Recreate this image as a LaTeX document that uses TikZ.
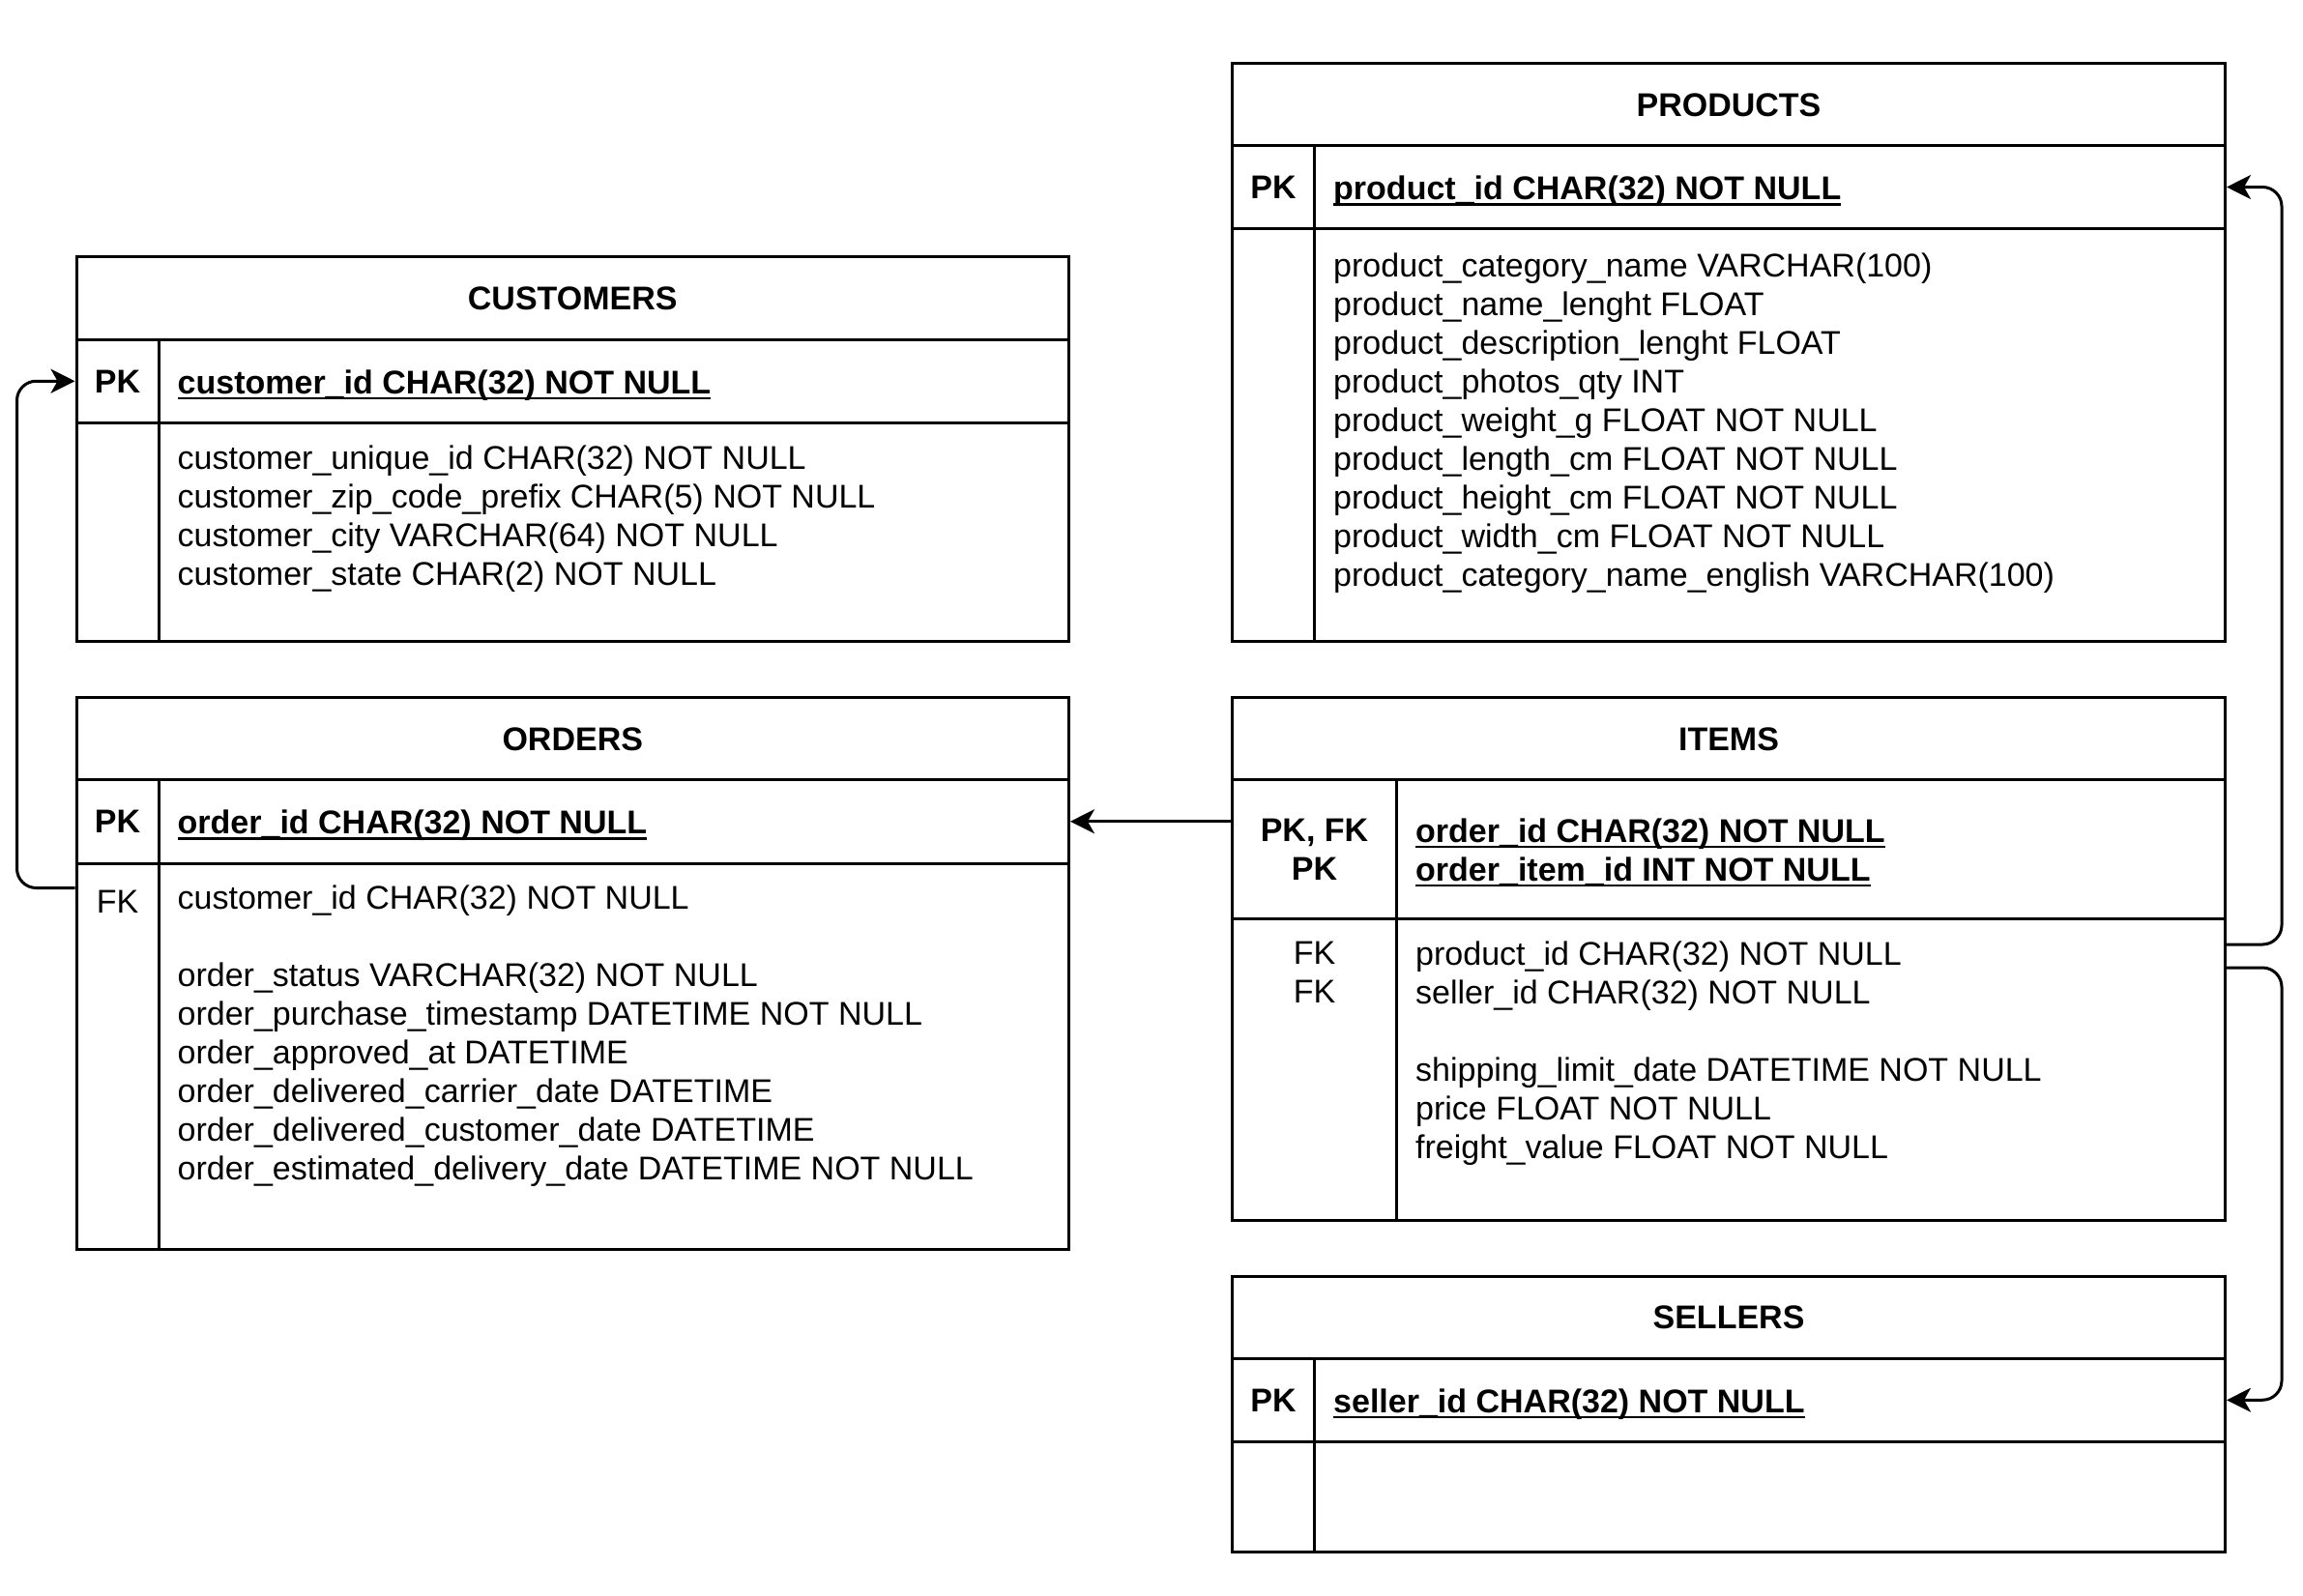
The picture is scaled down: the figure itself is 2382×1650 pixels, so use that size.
\documentclass[tikz,border=0pt]{standalone}
\usepackage{fontspec}
\setmainfont{Liberation Sans}
\usetikzlibrary{arrows.meta}

% underline for key fields
\newcommand{\pkline}[1]{\setbox0\hbox{#1}\rlap{\rule[-6pt]{\wd0}{2.5pt}}\box0}

\begin{document}
\begin{tikzpicture}[x=1pt, y=-1pt,
        every node/.style = {font=\fontsize{34}{40}\selectfont},
        cell/.style = {rectangle, draw, line width=3pt, anchor=north west, inner sep=0pt},  % Style for table cells
        head cell/.style = {cell, font=\fontsize{34}{40}\selectfont\bfseries, text height=24pt, text depth=0pt},
        key cell/.style = {head cell},
        pk text/.style = {anchor=west, inner sep=0pt, text height=24pt, text depth=0pt, font=\fontsize{34}{40}\selectfont\bfseries},
        attr text/.style = {anchor=north west, inner sep=0pt, align=left, execute at begin node=\strut},
        key text/.style = {anchor=north, inner sep=0pt, align=center, execute at begin node=\strut},
        fk link/.style = {line width=3pt, rounded corners=20pt, -{Stealth[length=25pt, width=25pt, inset=7pt]}},
        ]
        \useasboundingbox (0,0) rectangle (2382,1650);

        % Customers table
        \node[head cell, minimum width=1026.5, minimum height=85.5] (custHead) at (77.5,264) {CUSTOMERS};
        \node[key cell, minimum width=85, minimum height=86.5] (custPKkey) at (77.5,349.5) {PK};
        \node[cell, minimum width=941.5, minimum height=86.5] (custPKfield) at (162.5,349.5) {};
        \node[cell, minimum width=85, minimum height=226] (custBodyKey) at (77.5,436) {};
        \node[cell, minimum width=941.5, minimum height=226] (custBodyField) at (162.5,436) {};
        \node[pk text] (custPK) at ([xshift=21, yshift=-1]custPKfield.west) {\pkline{customer\_id CHAR(32) NOT NULL}};
        \node[attr text] (custAttr) at ([xshift=21, yshift=-24.5]custBodyField.north west) {customer\_unique\_id CHAR(32) NOT NULL\\
            customer\_zip\_code\_prefix CHAR(5) NOT NULL\\
            customer\_city VARCHAR(64) NOT NULL\\
            customer\_state CHAR(2) NOT NULL};

        % Orders table
        \node[head cell, minimum width=1026.5, minimum height=85] (ordHead) at (77.5,720) {ORDERS};
        \node[key cell, minimum width=85, minimum height=86.5] (ordPKkey) at (77.5,805) {PK};
        \node[cell, minimum width=941.5, minimum height=86.5] (ordPKfield) at (162.5,805) {};
        \node[cell, minimum width=85, minimum height=399.5] (ordBodyKey) at (77.5,891.5) {};
        \node[cell, minimum width=941.5, minimum height=399.5] (ordBodyField) at (162.5,891.5) {};
        \node[pk text] (ordPK) at ([xshift=21, yshift=-1]ordPKfield.west) {\pkline{order\_id CHAR(32) NOT NULL}};
        \node[key text] (ordFK) at ([yshift=-24.5]ordBodyKey.north) {FK};
        \node[attr text] (ordAttr) at ([xshift=21, yshift=-24.5]ordBodyField.north west) {customer\_id CHAR(32) NOT NULL\\[40pt]
            order\_status VARCHAR(32) NOT NULL\\
            order\_purchase\_timestamp DATETIME NOT NULL\\
            order\_approved\_at DATETIME\\
            order\_delivered\_carrier\_date DATETIME\\
            order\_delivered\_customer\_date DATETIME\\
            order\_estimated\_delivery\_date DATETIME NOT NULL};

        % Products table
        \node[head cell, minimum width=1027, minimum height=85] (prodHead) at (1273,64) {PRODUCTS};
        \node[key cell, minimum width=85, minimum height=86] (prodPKkey) at (1273,149) {PK};
        \node[cell, minimum width=942, minimum height=86] (prodPKfield) at (1358,149) {};
        \node[cell, minimum width=85, minimum height=427] (prodBodyKey) at (1273,235) {};
        \node[cell, minimum width=942, minimum height=427] (prodBodyField) at (1358,235) {};
        \node[pk text] (prodPK) at ([xshift=21, yshift=-1]prodPKfield.west) {\pkline{product\_id CHAR(32) NOT NULL}};
        \node[attr text] (prodAttr) at ([xshift=21, yshift=-26.5]prodBodyField.north west) {product\_category\_name VARCHAR(100)\\
            product\_name\_lenght FLOAT\\
            product\_description\_lenght FLOAT\\
            product\_photos\_qty INT\\
            product\_weight\_g FLOAT NOT NULL\\
            product\_length\_cm FLOAT NOT NULL\\
            product\_height\_cm FLOAT NOT NULL\\
            product\_width\_cm FLOAT NOT NULL\\
            product\_category\_name\_english VARCHAR(100)};

        % Items table
        \node[head cell, minimum width=1027, minimum height=85] (itemHead) at (1273,720) {ITEMS};
        \node[cell, minimum width=170, minimum height=144] (itemKeyKey) at (1273,805) {};
        \node[cell, minimum width=857, minimum height=144] (itemKeyField) at (1443,805) {};
        \node[cell, minimum width=170, minimum height=312] (itemBodyKey) at (1273,949) {};
        \node[cell, minimum width=857, minimum height=312] (itemBodyField) at (1443,949) {};
        \node[key text, font=\fontsize{34}{40}\selectfont\bfseries] (itemKeys) at ([yshift=-41.5]itemKeyKey.north) {PK, FK\\PK};
        \node[attr text, font=\fontsize{34}{40}\selectfont\bfseries] (itemPK) at ([xshift=21, yshift=-41.5]itemKeyField.north west) {\pkline{order\_id CHAR(32) NOT NULL}\\
            \pkline{order\_item\_id INT NOT NULL}};
        \node[key text] (itemFK) at ([yshift=-24.5]itemBodyKey.north) {FK\\FK};
        \node[attr text] (itemAttr) at ([xshift=21, yshift=-24.5]itemBodyField.north west) {product\_id CHAR(32) NOT NULL\\
            seller\_id CHAR(32) NOT NULL\\[40pt]
            shipping\_limit\_date DATETIME NOT NULL\\
            price FLOAT NOT NULL\\
            freight\_value FLOAT NOT NULL};

        % Sellers table
        \node[head cell, minimum width=1027, minimum height=85] (sellHead) at (1273,1318.5) {SELLERS};
        \node[key cell, minimum width=85, minimum height=86.5] (sellPKkey) at (1273,1403.5) {PK};
        \node[cell, minimum width=942, minimum height=86.5] (sellPKfield) at (1358,1403.5) {};
        \node[cell, minimum width=85, minimum height=114] (sellBodyKey) at (1273,1490) {};
        \node[cell, minimum width=942, minimum height=114] (sellBodyField) at (1358,1490) {};
        \node[pk text] (sellPK) at ([xshift=21, yshift=-1]sellPKfield.west) {\pkline{seller\_id CHAR(32) NOT NULL}};

        % Foreign key links
        \coordinate (ordFKout) at ([yshift=-27]ordBodyKey.north west);
        \coordinate (prodOut) at ([yshift=-28]itemBodyField.north east);
        \coordinate (sellOut) at ([yshift=-52]itemBodyField.north east);
        \draw[fk link] (ordFKout) -- ++(-60,0) |- (custPKkey.west);
        \draw[fk link] (itemKeyKey.west |- ordPKfield.east) -- (ordPKfield.east);
        \draw[fk link] (prodOut) -- ++(57,0) |- (prodPKfield.east);
        \draw[fk link] (sellOut) -- ++(57,0) |- (sellPKfield.east);
    \end{tikzpicture}
\end{document}
